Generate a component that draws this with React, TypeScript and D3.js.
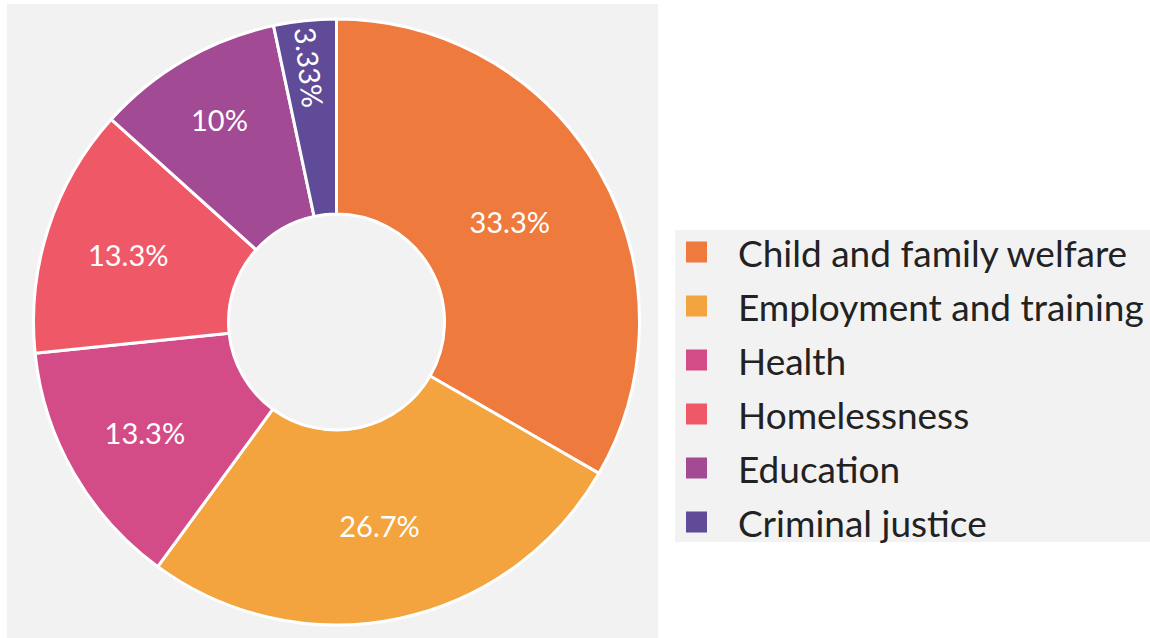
import React, { useEffect, useRef } from "react";
import * as d3 from "d3";

const categories = [
  "Child and family welfare",
  "Employment and training",
  "Health",
  "Homelessness",
  "Education",
  "Criminal justice",
];
const values = [33.3, 26.7, 13.3, 13.3, 10, 3.33];
const valueLabels = ["33.3%", "26.7%", "13.3%", "13.3%", "10%", "3.33%"];
const colors = ["#ef7a3d", "#f4a43e", "#d44c87", "#ef5967", "#a24a93", "#5f4b97"];
// label distance from centre, narrow slices push their label outward
const labelRadius = [200, 208, 221, 219, 234, 256];

type Slice = { name: string; value: number; label: string; i: number };

const W = 1150;
const H = 638;
const cx = 336.5;
const cy = 322;
const outerR = 303;
const innerR = 108;

const App = () => {
  const ref = useRef<SVGGElement>(null);

  useEffect(() => {
    const data: Slice[] = categories.map((name, i) => ({
      name,
      value: values[i],
      label: valueLabels[i],
      i,
    }));
    const pie = d3
      .pie<Slice>()
      .value((d) => d.value)
      .sort(null);
    const arc = d3
      .arc<d3.PieArcDatum<Slice>>()
      .innerRadius(innerR)
      .outerRadius(outerR);
    const color = d3.scaleOrdinal<string, string>().domain(categories).range(colors);

    const g = d3.select(ref.current);
    g.selectAll("*").remove();
    const arcs = pie(data);

    g.selectAll("path.arc")
      .data(arcs)
      .join("path")
      .attr("class", "arc")
      .attr("d", arc)
      .attr("fill", (d) => color(d.data.name))
      .attr("stroke", "#ffffff")
      .attr("stroke-width", 3)
      .attr("stroke-linejoin", "round");

    g.selectAll("text.val")
      .data(arcs)
      .join("text")
      .attr("class", "val")
      .attr("transform", (d) => {
        const r = labelRadius[d.data.i];
        const c = d3
          .arc<d3.PieArcDatum<Slice>>()
          .innerRadius(r)
          .outerRadius(r)
          .centroid(d);
        const mid = (((d.startAngle + d.endAngle) / 2) * 180) / Math.PI;
        const rot = d.endAngle - d.startAngle < 0.3 ? mid - 270 : 0;
        return `translate(${c[0]},${c[1]}) rotate(${rot})`;
      })
      .attr("text-anchor", "middle")
      .attr("dominant-baseline", "central")
      .style("fill", "#ffffff")
      .style("font-family", "Lato, sans-serif")
      .style("font-size", "29px")
      .text((d) => d.data.label);
  }, []);

  const rowY = d3.scalePoint<string>().domain(categories).range([252, 522]);
  const color = d3.scaleOrdinal<string, string>().domain(categories).range(colors);

  return (
    <div style={{ position: "fixed", left: 0, top: 0, width: W, height: H, background: "#ffffff" }}>
      <svg width={W} height={H}>
        <rect x={7} y={4} width={651} height={634} fill="#f3f2f3" />
        <rect x={675} y={230} width={475} height={312} fill="#f3f2f3" />
        <g ref={ref} transform={`translate(${cx} ${cy})`} />
        <g style={{ fontFamily: "Lato, sans-serif" }}>
          {categories.map((c) => (
            <g key={c} transform={`translate(686 ${rowY(c)})`}>
              <rect x={0} y={-10.5} width={21} height={21} fill={color(c)} />
              <text x={52} y={0} dominantBaseline="central" fontSize={37} fill="#222222">
                {c}
              </text>
            </g>
          ))}
        </g>
      </svg>
    </div>
  );
};

export default App;
